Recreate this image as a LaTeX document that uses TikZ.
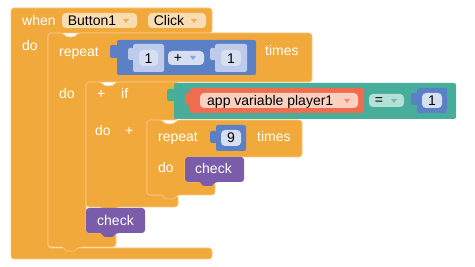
\documentclass[tikz,border=0pt]{standalone}
\usepackage{fontspec}
\setmainfont{Liberation Sans}
\usepackage{xcolor}
\definecolor{ctrl}{HTML}{F1A93C}
\definecolor{ctrledge}{HTML}{F7C887}
\definecolor{ctrlfield}{HTML}{F9DDB1}
\definecolor{ctrlarrow}{HTML}{EDAE60}
\definecolor{mathc}{HTML}{5C80C6}
\definecolor{mathshadow}{HTML}{BFCBEA}
\definecolor{mathfield}{HTML}{D6DEF2}
\definecolor{logic}{HTML}{47AE9C}
\definecolor{logicfield}{HTML}{B5E0D8}
\definecolor{vars}{HTML}{F16C4F}
\definecolor{varsfield}{HTML}{FAD0BF}
\definecolor{proc}{HTML}{7B5CAA}

\begin{document}
\begin{tikzpicture}[x=1pt, y=-1pt,
  block/.style={fill=ctrl, draw=ctrledge, line width=0.6pt, rounded corners=3pt},
  valblk/.style={rounded corners=2pt},
  fieldbox/.style={rounded corners=4pt},
  kw/.style={text=white, anchor=base west, inner sep=0pt, font=\fontsize{14}{16}\selectfont},
  fieldtext/.style={text=black, anchor=base, inner sep=0pt, font=\fontsize{14}{16}\selectfont}
]
\useasboundingbox (0,0) rectangle (475,267);

% ---- when block ----
\path[block] (11,8) -- (212,8) -- (212,33) -- (48,33) -- (48,248) -- (212,248) -- (212,259) -- (11,259) -- cycle;
\path[fieldbox, fill=ctrlfield] (62,13) rectangle (137,28);
\path[fieldbox, fill=ctrlfield] (148,13) rectangle (206,28);
\fill[ctrlarrow] (123,19) -- (129,19) -- (126,23) -- cycle;
\fill[ctrlarrow] (191,19) -- (197,19) -- (194,23) -- cycle;
\node[kw] (when) at (22,26) {when};
\node[fieldtext] (button) at (92,26) {Button1};
\node[fieldtext] (click) at (169,26) {Click};
\node[kw] (do0) at (22,51) {do};

% ---- repeat (outer) ----
\path[block] (48,33) -- (63,33) -- (66,37) -- (75,37) -- (78,33) -- (312,33) -- (312,82) -- (86,82) -- (86,233) -- (116,233) -- (116,247) -- (78,247) [rounded corners=1pt] -- (75,251) -- (66,251) -- (63,247) [rounded corners=3pt] -- (48,247) -- cycle;
\node[kw] (rep1) at (59,57) {repeat};
\node[kw] (times1) at (265,56) {times};
\node[kw] (do1) at (59,99) {do};

\path[valblk, fill=mathc] (110,45) rectangle (118,58);
\path[valblk, fill=mathc] (117,40) rectangle (256,75);
\path[valblk, fill=mathshadow] (128,48) rectangle (134,60);
\path[valblk, fill=mathshadow] (133,44) rectangle (164,72);
\path[fieldbox, fill=mathfield] (139,50) rectangle (158,66);
\node[fieldtext] (one1) at (148.5,64) {1};
\path[fieldbox, fill=mathfield] (168,51) rectangle (204,65);
\node[fieldtext] (plus) at (178,63) {+};
\fill[mathc!70!white] (190,56) -- (196,56) -- (193,60) -- cycle;
\path[valblk, fill=mathshadow] (210,48) rectangle (216,60);
\path[valblk, fill=mathshadow] (215,44) rectangle (247,72);
\path[fieldbox, fill=mathfield] (221,50) rectangle (241,66);
\node[fieldtext] (one2) at (231,64) {1};

% ---- if block ----
\path[block] (86,82) -- (101,82) -- (104,86) -- (113,86) -- (116,82) -- (178,82) -- (178,120) -- (147,120) -- (147,195) -- (178,195) -- (178,207) -- (116,207) [rounded corners=1pt] -- (113,211) -- (104,211) -- (101,207) [rounded corners=3pt] -- (86,207) -- cycle;
\node[kw] (plus1) at (97,99) {+};
\node[kw] (if) at (121,99) {if};
\node[kw] (do2) at (95,136) {do};
\node[kw] (plus2) at (125,136) {+};

\path[valblk, fill=logic] (167,89) rectangle (175,101);
\path[valblk, fill=logic] (174,83) rectangle (456,119);
\path[valblk, fill=vars] (185,93) rectangle (191,105);
\path[valblk, fill=vars] (190,88) rectangle (364,113);
\path[fieldbox, fill=varsfield] (200,93) rectangle (358,108);
\node[fieldtext, anchor=base west] (player) at (207,106) {app variable player1};
\fill[vars!80!white] (344,99) -- (350,99) -- (347,103) -- cycle;
\path[fieldbox, fill=logicfield] (369,94) rectangle (404,107);
\node[fieldtext] (eq) at (379,105) {=};
\fill[logic!80!white] (391,99) -- (397,99) -- (394,103) -- cycle;
\path[valblk, fill=mathc] (411,93) rectangle (418,105);
\path[valblk, fill=mathc] (417,88) rectangle (447,113);
\path[fieldbox, fill=mathfield] (422,93) rectangle (442,108);
\node[fieldtext] (one3) at (432,106) {1};

% ---- repeat (inner) ----
\path[block] (147,120) -- (162,120) -- (165,124) -- (174,124) -- (177,120) -- (302,120) -- (302,157) -- (185,157) -- (185,182) -- (215,182) -- (215,195) -- (177,195) [rounded corners=1pt] -- (174,199) -- (165,199) -- (162,195) [rounded corners=3pt] -- (147,195) -- cycle;
\node[kw] (rep2) at (158,142) {repeat};
\node[kw] (times2) at (257,142) {times};
\node[kw] (do3) at (158,173) {do};
\path[valblk, fill=mathc] (210,131) rectangle (217,143);
\path[valblk, fill=mathc] (216,125) rectangle (246,151);
\path[fieldbox, fill=mathfield] (221,130) rectangle (241,146);
\node[fieldtext] (nine) at (231,143) {9};

% ---- check calls ----
\path[fill=proc, rounded corners=3pt] (185,157) -- (244,157) -- (244,182) -- (215,182) [rounded corners=1pt] -- (212,186) -- (203,186) -- (200,182) [rounded corners=3pt] -- (185,182) -- cycle;
\node[kw] (check1) at (195,174) {check};
\path[fill=proc, rounded corners=3pt] (86,208) -- (145,208) -- (145,233) -- (116,233) [rounded corners=1pt] -- (113,237) -- (104,237) -- (101,233) [rounded corners=3pt] -- (86,233) -- cycle;
\node[kw] (check2) at (97,226) {check};

\end{tikzpicture}
\end{document}
